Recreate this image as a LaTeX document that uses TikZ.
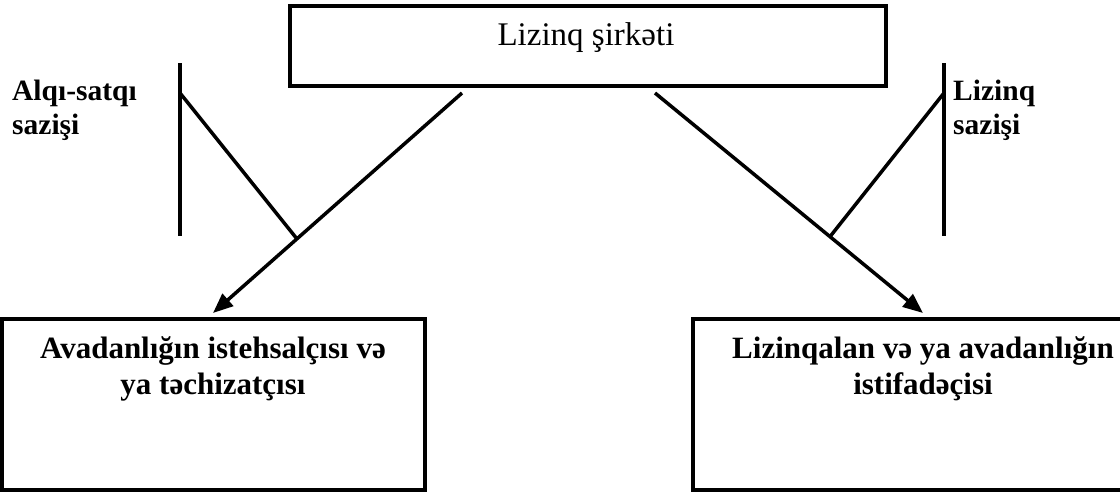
\documentclass[tikz,border=0pt]{standalone}
\usepackage{fontspec}
\setmainfont{Liberation Serif}
\usetikzlibrary{arrows.meta,calc}
\begin{document}
\begin{tikzpicture}[x=1pt,y=-1pt,
  boxst/.style={draw, line width=4pt, inner sep=0pt},
  conn/.style={line width=3.5pt},
  bar/.style={line width=4pt},
  arr/.style={line width=3.5pt, -{Triangle[length=20pt,width=16pt]}},
  lbl/.style={font=\bfseries\fontsize{29.5}{34}\selectfont, align=left, inner sep=0pt},
  btxt/.style={font=\bfseries\fontsize{31}{36}\selectfont, align=center, inner sep=0pt}
]
\useasboundingbox (0,0) rectangle (1120,493);
% boxes
\node[boxst, minimum width=596pt, minimum height=80pt] (company) at (588,46) {};
\node[boxst, minimum width=423pt, minimum height=171pt] (maker) at (213.5,404.5) {};
\node[boxst, minimum width=460pt, minimum height=171pt] (user) at (923,404.5) {};
% texts
\node[anchor=base, font=\fontsize{33}{38}\selectfont, inner sep=0pt] (companytext) at (586,45) {Lizinq şirkəti};
\node[btxt, anchor=base] (makertext) at (213,394) {Avadanlığın istehsalçısı və\\ya təchizatçısı};
\node[btxt, anchor=base] (usertext) at (923,394) {Lizinqalan və ya avadanlığın\\istifadəçisi};
\node[lbl, anchor=base west] (salelbl) at (12,134) {Alqı-satqı\\sazişi};
\node[lbl, anchor=base west] (leaselbl) at (953,134) {Lizinq\\sazişi};
% left connector
\coordinate (la) at (462,93);
\coordinate (lb) at (213,313);
\draw[arr] (la) -- (lb);
\coordinate (lj) at ($(la)!0.663!(lb)$);
\coordinate (ltop) at (180,63);
\coordinate (lbot) at (180,236);
\coordinate (lk) at (180,93);
\draw[bar] (ltop) -- (lbot);
\draw[conn] (lk) -- (lj);
% right connector
\coordinate (ra) at (655,93);
\coordinate (rb) at (923,313);
\draw[arr] (ra) -- (rb);
\coordinate (rj) at ($(ra)!0.653!(rb)$);
\coordinate (rtop) at (944,63);
\coordinate (rbot) at (944,236);
\coordinate (rk) at (944,93);
\draw[bar] (rtop) -- (rbot);
\draw[conn] (rk) -- (rj);
\end{tikzpicture}
\end{document}
